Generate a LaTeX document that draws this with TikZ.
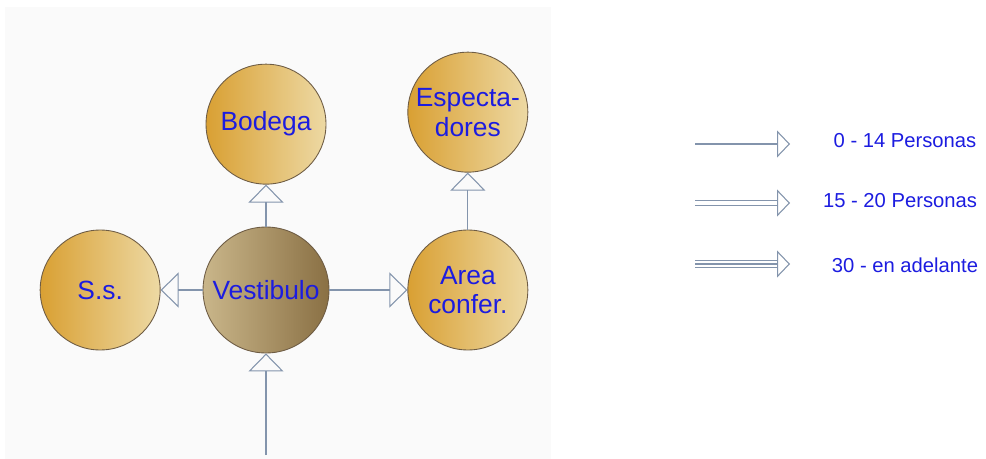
\documentclass[tikz,border=0pt]{standalone}
\usepackage{fontspec}
\setmainfont{Liberation Sans}
\usetikzlibrary{arrows.meta, positioning}
\definecolor{linkgrey}{HTML}{8394AC}
\definecolor{textblue}{HTML}{1C1CE0}
\definecolor{goldleft}{HTML}{D9A033}
\definecolor{goldright}{HTML}{EDD9A4}
\definecolor{vestleft}{HTML}{C9B68A}
\definecolor{vestright}{HTML}{8A7044}
\definecolor{rimbrown}{HTML}{6E5C44}
\definecolor{panelgrey}{HTML}{FAFAFA}

\begin{document}
\begin{tikzpicture}[
  x=0.02cm, y=-0.02cm, node distance=0.84cm,
  room/.style={circle, draw=rimbrown, line width=0.5pt, minimum size=2.4cm,
               inner sep=0pt, align=center, font=\fontsize{15}{17}\selectfont,
               text=textblue, left color=goldleft, right color=goldright},
  hall/.style={room, minimum size=2.52cm,
               left color=vestleft, right color=vestright},
  flow/.style={draw=linkgrey, line width=0.6pt,
               -{Triangle[open, length=0.36cm, width=0.7cm]}},
  legline/.style={draw=linkgrey, line width=0.6pt},
  legtip/.style={draw=linkgrey, line width=0.6pt,
                 -{Triangle[open, length=0.26cm, width=0.54cm]}},
  legtext/.style={font=\fontsize{11.5}{13}\selectfont, text=textblue}
]
  \useasboundingbox (0,0) rectangle (986,459);
  \fill[white] (0,0) rectangle (986,459);
  \fill[panelgrey] (5,7) rectangle (551,459);

  % rooms around the hall
  \node[hall] (vest) at (266,290) {Vestibulo};
  \node[room, above=of vest] (bodega) {Bodega};
  \node[room, left=0.84cm of vest] (ss) {S.s.};
  \node[room, right=1.56cm of vest] (area) {Area\\confer.};
  \node[room, above=1.14cm of area] (espect) {Especta-\\dores};
  \coordinate (entry) at (266,455);

  \draw[flow] (vest) -- (bodega);
  \draw[flow] (vest) -- (ss);
  \draw[flow] (vest) -- (area);
  \draw[flow] (area) -- (espect);
  \draw[flow] (entry) -- (vest);

  % legend: single, double and triple lines
  \coordinate (k1s) at (695,144); \coordinate (k1b) at (777,144);
  \coordinate (k1e) at (790,144);
  \coordinate (k2s) at (695,203); \coordinate (k2b) at (777,203);
  \coordinate (k2e) at (790,203);
  \coordinate (k3s) at (695,264); \coordinate (k3b) at (777,264);
  \coordinate (k3e) at (790,264);

  \draw[legline] (k1s) -- (k1b);
  \draw[legtip] (k1b) -- (k1e);
  \draw[legline] ([yshift=1.6pt]k2s) -- ([yshift=1.6pt]k2b);
  \draw[legline] ([yshift=-1.6pt]k2s) -- ([yshift=-1.6pt]k2b);
  \draw[legtip] (k2b) -- (k2e);
  \draw[legline] ([yshift=1.8pt]k3s) -- ([yshift=1.8pt]k3b);
  \draw[legline] (k3s) -- (k3b);
  \draw[legline] ([yshift=-1.8pt]k3s) -- ([yshift=-1.8pt]k3b);
  \draw[legtip] (k3b) -- (k3e);

  \node[legtext] (k1t) at (905,141) {0 - 14 Personas};
  \node[legtext] (k2t) at (900,201) {15 - 20 Personas};
  \node[legtext] (k3t) at (905,265) {30 - en adelante};
\end{tikzpicture}
\end{document}
